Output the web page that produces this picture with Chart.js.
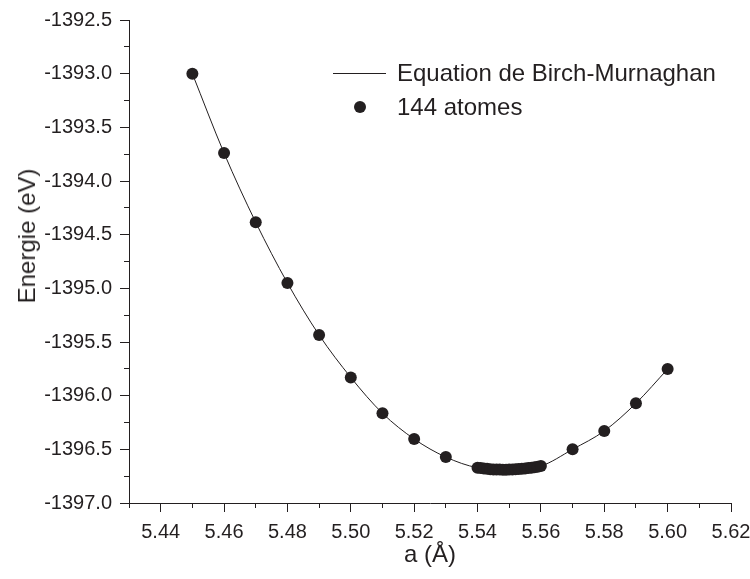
<!DOCTYPE html>
<html>
<head>
<meta charset="utf-8">
<script src="https://cdn.jsdelivr.net/npm/chart.js@4.4.0/dist/chart.umd.min.js"></script>
<style>
  html, body { margin: 0; padding: 0; background: #fff; }
  #wrap { position: relative; width: 750px; height: 579px; }
  #chart { position: absolute; left: 0; top: 0; }
  .leg { position: absolute; font-family: Arial, "Liberation Sans", sans-serif; font-size: 24px; line-height: 28px; color: #231f20; white-space: nowrap; }
  .leg-line { position: absolute; left: 333px; top: 73px; width: 53px; height: 1px; background: #231f20; }
  .leg-dot { position: absolute; left: 354px; top: 101px; width: 12px; height: 12px; border-radius: 50%; background: #231f20; }
  .ytitle { position: absolute; left: 27px; top: 236px; transform: translate(-50%, -50%) rotate(-90deg); }
</style>
</head>
<body>
<div id="wrap">
  <canvas id="chart" width="750" height="579"></canvas>
  <div class="leg ytitle">Energie (eV)</div>
  <div class="leg-line"></div>
  <div class="leg" style="left:397px; top:59px;">Equation de Birch-Murnaghan</div>
  <div class="leg-dot"></div>
  <div class="leg" style="left:397px; top:93px;">144 atomes</div>
</div>
<script>
// lattice parameter a (Å) of the computed points
const latticeA = [
    5.45, 5.46, 5.47, 5.48, 5.49, 5.50, 5.51, 5.52, 5.53,
    5.540, 5.541, 5.542, 5.543, 5.544, 5.545, 5.546, 5.547, 5.548, 5.549, 5.550,
    5.551, 5.552, 5.553, 5.554, 5.555, 5.556, 5.557, 5.558, 5.559, 5.560,
    5.57, 5.58, 5.59, 5.60
];
// total energy (eV), 144 atoms
const energy = [
    -1393.00, -1393.74, -1394.385, -1394.95, -1395.435, -1395.83, -1396.164, -1396.404, -1396.572,
    -1396.671, -1396.675, -1396.679, -1396.682, -1396.685, -1396.687, -1396.688, -1396.689, -1396.690, -1396.690, -1396.689,
    -1396.688, -1396.686, -1396.684, -1396.681, -1396.678, -1396.675, -1396.671, -1396.667, -1396.662, -1396.656,
    -1396.500, -1396.329, -1396.071, -1395.752
];

// Birch-Murnaghan fit
const fitA = [5.45, 5.46, 5.47, 5.48, 5.49, 5.50, 5.51, 5.52, 5.53, 5.54, 5.55, 5.56, 5.57, 5.58, 5.59, 5.60];
const fitEnergy = [
    -1393.00, -1393.74, -1394.385, -1394.95, -1395.435, -1395.83, -1396.164, -1396.404,
    -1396.572, -1396.671, -1396.689, -1396.656, -1396.500, -1396.329, -1396.071, -1395.752
];

// axis ranges
const xRange = { min: 5.43, max: 5.62, step: 0.01 };
const yRange = { min: -1397.0, max: -1392.5, step: 0.25 };

const ink = '#231f20';
const tickFont = { family: 'Arial, "Liberation Sans", sans-serif', size: 20 };
const titleFont = { family: 'Arial, "Liberation Sans", sans-serif', size: 24 };

function isMajorX(v) { return Math.round(v * 100) % 2 === 0; }
function isMajorY(v) { return Math.round(v * 4) % 2 === 0; }

new Chart(document.getElementById('chart'), {
    type: 'scatter',
    data: {
        datasets: [{
            label: 'Equation de Birch-Murnaghan',
            data: fitA.map((a, i) => ({ x: a, y: fitEnergy[i] })),
            showLine: true,
            borderColor: ink,
            borderWidth: 1,
            pointRadius: 0,
            cubicInterpolationMode: 'monotone',
            order: 2
        }, {
            label: '144 atomes',
            data: latticeA.map((a, i) => ({ x: a, y: energy[i] })),
            showLine: false,
            backgroundColor: ink,
            borderWidth: 0,
            pointRadius: 6,
            order: 1
        }]
    },
    options: {
        responsive: false,
        animation: false,
        events: [],
        layout: { padding: { top: 20, right: 0, left: 0, bottom: 0 } },
        plugins: {
            legend: { display: false },
            tooltip: { enabled: false }
        },
        scales: {
            x: {
                type: 'linear',
                min: xRange.min,
                max: xRange.max,
                afterFit: function(scale) {
                    scale.height = 76;
                    scale.paddingRight = 19;
                },
                border: { display: true, color: ink, width: 1 },
                grid: {
                    drawOnChartArea: false,
                    tickLength: 9,
                    tickColor: ink,
                    tickWidth: 1,
                    tickBorderDash: ctx => isMajorX(ctx.tick.value) ? [] : [4, 30]
                },
                ticks: {
                    stepSize: xRange.step,
                    maxTicksLimit: 100,
                    autoSkip: false,
                    maxRotation: 0,
                    padding: 8,
                    color: ink,
                    font: tickFont,
                    callback: v => isMajorX(v) ? v.toFixed(2) : ''
                },
                title: {
                    display: true,
                    text: 'a (Å)',
                    color: ink,
                    font: titleFont,
                    padding: { top: 0, bottom: 9 }
                }
            },
            y: {
                type: 'linear',
                min: yRange.min,
                max: yRange.max,
                afterFit: function(scale) { scale.width = 129; },
                border: { display: true, color: ink, width: 1 },
                grid: {
                    drawOnChartArea: false,
                    tickLength: 9,
                    tickColor: ink,
                    tickWidth: 1,
                    tickBorderDash: ctx => isMajorY(ctx.tick.value) ? [] : [0, 4, 5, 30]
                },
                ticks: {
                    stepSize: yRange.step,
                    maxTicksLimit: 100,
                    autoSkip: false,
                    padding: 8,
                    color: ink,
                    font: tickFont,
                    callback: v => isMajorY(v) ? v.toFixed(1) : ''
                }
            }
        }
    }
});
</script>
</body>
</html>
